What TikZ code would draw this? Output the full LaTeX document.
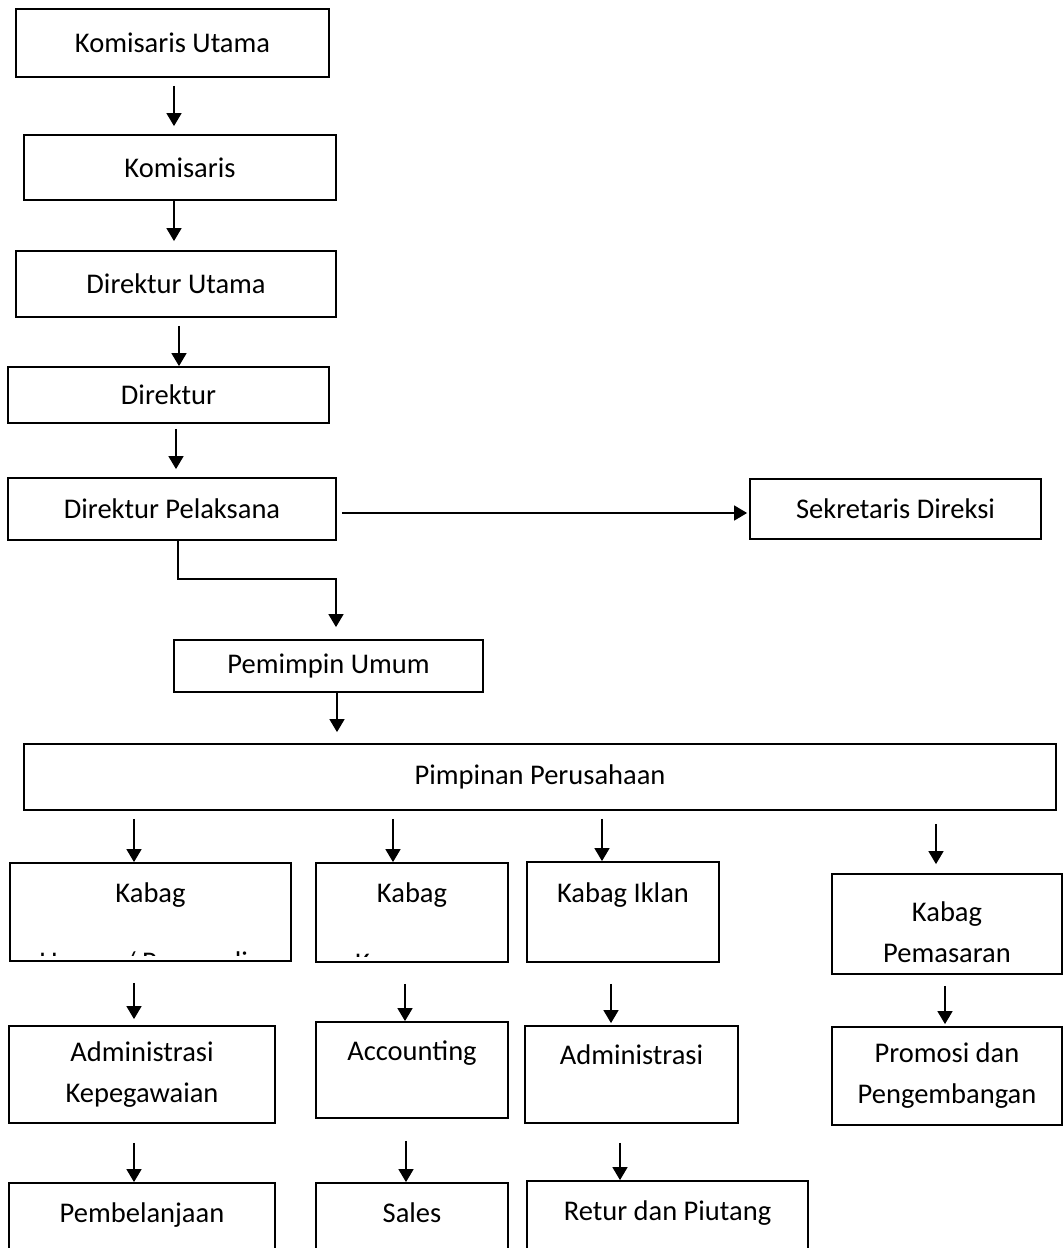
\documentclass[tikz,border=0pt]{standalone}
\usepackage{fontspec}
\setmainfont{Carlito}
\usetikzlibrary{arrows.meta}

\begin{document}
\begin{tikzpicture}[x=1pt, y=-1pt,
    txt/.style={font=\fontsize{28.5}{41}\selectfont},
    box/.style={txt, draw, line width=1.8pt, inner sep=0pt, align=center},
    toptext/.style={text height=20pt, text depth=40pt},
    arr/.style={-{Triangle[width=15pt,length=13pt]}, line width=1.5pt}]
    \useasboundingbox (0,0) rectangle (1063,1248);
    \clip (0,0) rectangle (1063,1248);

    % Board and directors
    \node[box, minimum width=313pt, minimum height=68pt] (ku) at (172.5,43) {Komisaris Utama};
    \node[box, minimum width=312pt, minimum height=65pt] (kom) at (180,167.5) {Komisaris};
    \node[box, minimum width=320pt, minimum height=66pt] (du) at (176,284) {Direktur Utama};
    \node[box, minimum width=321pt, minimum height=56pt] (dir) at (168.5,395) {Direktur};
    \node[box, minimum width=328pt, minimum height=62pt] (dp) at (172,509) {Direktur Pelaksana};
    \node[box, minimum width=291pt, minimum height=60pt] (sd) at (895.5,509) {Sekretaris Direksi};
    \node[box, minimum width=309pt, minimum height=52pt] (pu) at (328.5,666) {Pemimpin Umum};
    \node[box, minimum width=1032pt, minimum height=66pt] (pp) at (540,777) {Pimpinan Perusahaan};

    % Kabag row
    \node[box, toptext, minimum width=281pt, minimum height=98pt] (kb1) at (150.5,912) {Kabag};
    \node[box, toptext, minimum width=192pt, minimum height=99pt] (kb2) at (412,912.5) {Kabag};
    \node[box, toptext, minimum width=192pt, minimum height=100pt] (kbi) at (623,912) {Kabag Iklan};
    \node[box, minimum width=230pt, minimum height=100pt] (kp) at (947,924) {\rule{0pt}{36pt}Kabag\\Pemasaran};

    % second lines cut off by the boxes
    \begin{scope}
        \clip (kb1.north west) rectangle ([yshift=6pt]kb1.south east);
        \node[txt, anchor=base] (kb1sub) at ([yshift=-10pt]kb1.south) {Umum / Personalia};
    \end{scope}
    \begin{scope}
        \clip (kb2.north west) rectangle ([yshift=6pt]kb2.south east);
        \node[txt, anchor=base] (kb2sub) at ([yshift=-10pt]kb2.south) {Keuangan};
    \end{scope}

    % Third row
    \node[box, minimum width=266pt, minimum height=97pt] (ak) at (142,1074.5) {Administrasi\\Kepegawaian};
    \node[box, toptext, minimum width=192pt, minimum height=96pt] (acc) at (412,1070) {Accounting};
    \node[box, toptext, minimum width=213pt, minimum height=97pt] (adm) at (631.5,1074.5) {Administrasi};
    \node[box, minimum width=230pt, minimum height=98pt] (pr) at (947,1076) {Promosi dan\\Pengembangan};

    % Bottom row (runs off the page)
    \node[box, toptext, minimum width=266pt, minimum height=98pt] (pb) at (142,1232) {Pembelanjaan};
    \node[box, toptext, minimum width=192pt, minimum height=98pt] (sl) at (412,1232) {Sales};
    \node[box, toptext, minimum width=281pt, minimum height=98pt] (rt) at (667.5,1230) {Retur dan Piutang};

    % Arrows down the chain
    \draw[arr, shorten <=8pt, shorten >=8pt] ([xshift=1.5pt]ku.south) -- ([xshift=1.5pt]ku.south |- kom.north);
    \draw[arr, shorten >=9pt] ([xshift=-6pt]kom.south) -- ([xshift=-6pt]kom.south |- du.north);
    \draw[arr, shorten <=8pt] ([xshift=3pt]du.south) -- ([xshift=3pt]du.south |- dir.north);
    \draw[arr, shorten <=5pt, shorten >=8pt] ([xshift=7.5pt]dir.south) -- ([xshift=7.5pt]dir.south |- dp.north);
    \draw[arr, shorten <=5pt, shorten >=2pt] ([yshift=-4pt]dp.east) -- ([yshift=-4pt]dp.east -| sd.west);
    \coordinate (bend) at (336,579);
    \draw[arr, shorten >=12pt] ([xshift=6pt]dp.south) |- (bend) -- (bend |- pu.north);
    \draw[arr, shorten >=11pt] ([xshift=8.5pt]pu.south) -- ([xshift=8.5pt]pu.south |- pp.north);

    % Pimpinan to Kabag
    \draw[arr, shorten <=8pt] ([xshift=-16.5pt]kb1.north |- pp.south) -- ([xshift=-16.5pt]kb1.north);
    \draw[arr, shorten <=8pt] ([xshift=-19pt]kb2.north |- pp.south) -- ([xshift=-19pt]kb2.north);
    \draw[arr, shorten <=8pt] ([xshift=-21pt]kbi.north |- pp.south) -- ([xshift=-21pt]kbi.north);
    \draw[arr, shorten <=13pt, shorten >=9pt] ([xshift=-11pt]kp.north |- pp.south) -- ([xshift=-11pt]kp.north);

    % Kabag to third row
    \draw[arr, shorten <=21pt, shorten >=6pt] ([xshift=-16.5pt]kb1.south) -- ([xshift=-16.5pt]kb1.south |- ak.north);
    \draw[arr, shorten <=21pt] ([xshift=-7pt]kb2.south) -- ([xshift=-7pt]kb2.south |- acc.north);
    \draw[arr, shorten <=21pt, shorten >=2pt] ([xshift=-12pt]kbi.south) -- ([xshift=-12pt]kbi.south |- adm.north);
    \draw[arr, shorten <=11pt, shorten >=2pt] ([xshift=-2pt]kp.south) -- ([xshift=-2pt]kp.south |- pr.north);

    % Third row to bottom row
    \draw[arr, shorten <=19pt] ([xshift=-8pt]ak.south) -- ([xshift=-8pt]ak.south |- pb.north);
    \draw[arr, shorten <=22pt] ([xshift=-6pt]acc.south) -- ([xshift=-6pt]acc.south |- sl.north);
    \draw[arr, shorten <=19pt] ([xshift=-11.5pt]adm.south) -- ([xshift=-11.5pt]adm.south |- rt.north);
\end{tikzpicture}
\end{document}
